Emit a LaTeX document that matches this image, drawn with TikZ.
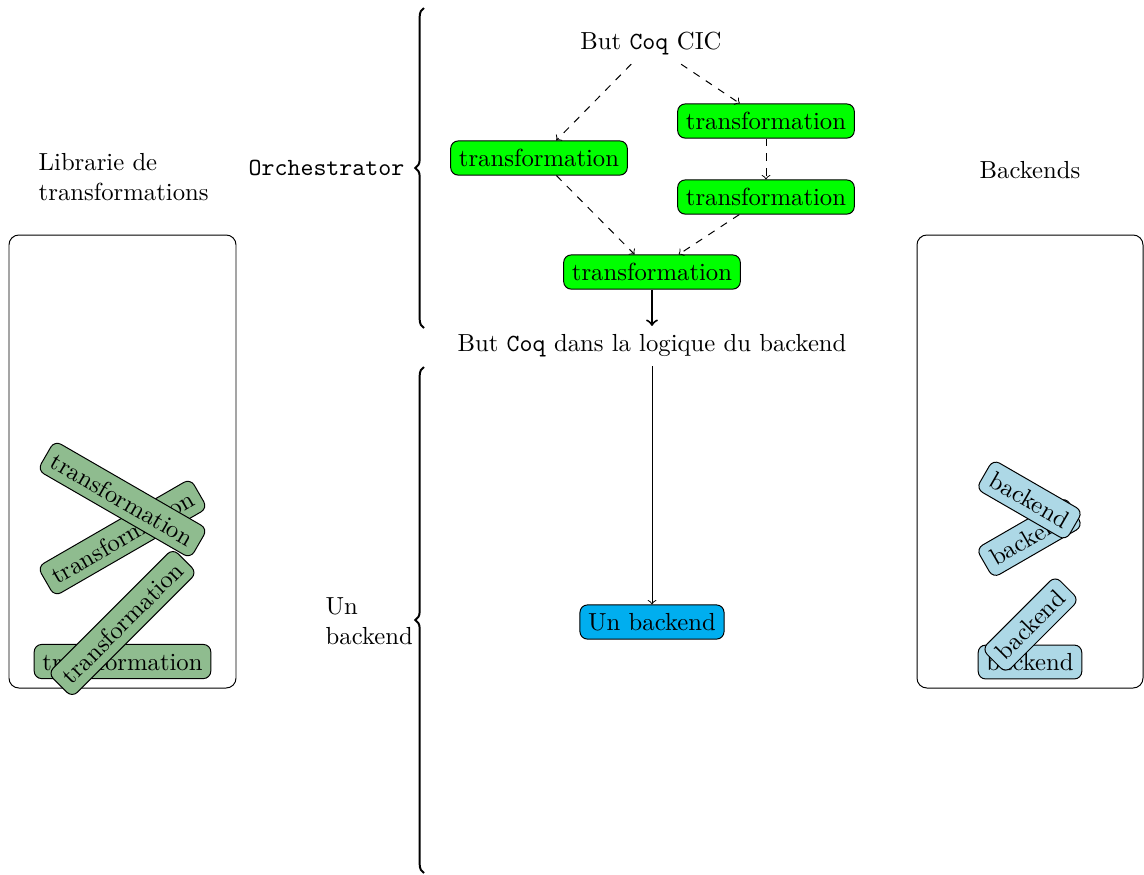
\documentclass[tikz,border=0pt]{standalone}
\usetikzlibrary{decorations.pathreplacing}
\definecolor{cgreen}{RGB}{0,255,0}
\definecolor{ccyan}{RGB}{0,174,239}
\definecolor{tgreen}{RGB}{143,188,143}
\definecolor{bblue}{RGB}{173,216,230}
\begin{document}
\begin{tikzpicture}[x=0.405pt,y=-0.405pt,
  tnode/.style={draw, rounded corners=3pt, fill=cgreen},
  libnode/.style={draw, rounded corners=3pt, fill=tgreen},
  bknode/.style={draw, rounded corners=3pt, fill=bblue},
  panel/.style={draw, rounded corners=4pt},
  flow/.style={->, dashed},
  brc/.style={decorate, decoration={brace, amplitude=3.5pt}, thick},
]
\useasboundingbox (0,0) rectangle (1144,874);

% panels
\draw[panel] (9,235) rectangle (236,688);
\draw[panel] (917,235) rectangle (1143,688);

% labels
\node (lib) [anchor=west, align=left] at (30,177) {Librarie de\\transformations};
\node (bks) at (1030,170) {Backends};
\node (orch) [anchor=east] at (413,168) {\texttt{Orchestrator}};
\node (unb) [anchor=west, align=left] at (317,621) {Un\\backend};

% braces
\coordinate (b1s) at (424,328);
\coordinate (b1e) at (424,8);
\coordinate (b2s) at (424,873);
\coordinate (b2e) at (424,367);
\draw[brc] (b1s) -- (b1e);
\draw[brc] (b2s) -- (b2e);

% library of transformations
\node[libnode] (l0) at (122.5,661.5) {transformation};
\node[libnode, rotate=45] (l3) at (122.5,623) {transformation};
\node[libnode, rotate=30] (l2) at (122.5,537.5) {transformation};
\node[libnode, rotate=-30] (l1) at (122.5,499.5) {transformation};

% backends
\node[bknode] (k0) at (1030,662) {backend};
\node[bknode, rotate=45] (k3) at (1030.5,624.5) {backend};
\node[bknode, rotate=30] (k2) at (1029.5,537.5) {backend};
\node[bknode, rotate=-30] (k1) at (1029.5,500) {backend};

% orchestrator
\node (cic) at (651,44) {But \texttt{Coq} CIC};
\node[tnode] (t1) at (539,158) {transformation};
\node[tnode] (t2) at (766,121) {transformation};
\node[tnode] (t3) at (766,197) {transformation};
\node[tnode] (t4) at (652,272) {transformation};
\node (goal) at (652,346) {But \texttt{Coq} dans la logique du backend};
\node[draw, rounded corners=3pt, fill=ccyan] (ub) at (652,622) {Un backend};

\draw[flow] (cic) -- (t1);
\draw[flow] (cic) -- (t2);
\draw[flow] (t2) -- (t3);
\draw[flow] (t1) -- (t4);
\draw[flow] (t3) -- (t4);
\draw[->, thick] (t4) -- (goal);
\draw[->] (goal) -- (ub);
\end{tikzpicture}
\end{document}
